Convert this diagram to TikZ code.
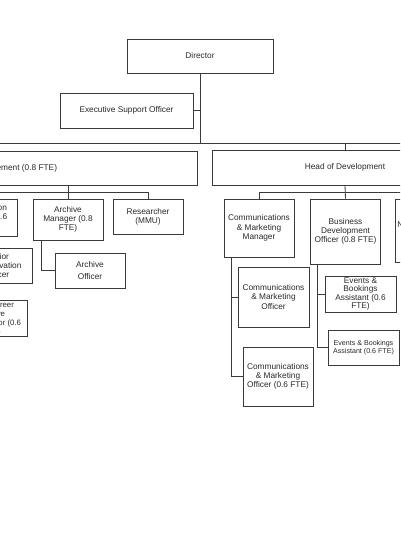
\documentclass[tikz,border=0pt]{standalone}
\usepackage{fontspec}
\setmainfont{Liberation Sans}
\definecolor{linec}{HTML}{3A3A3A}
\definecolor{txtc}{HTML}{2A2A2A}
\tikzset{
  orgbox/.style={draw=linec, line width=0.8pt, inner sep=1pt, align=center, text=txtc,
    font=\fontsize{8.3}{9.3}\selectfont},
  conn/.style={draw=linec, line width=0.8pt},
}
\begin{document}
\begin{tikzpicture}[x=1pt,y=-1pt]
\useasboundingbox (0,0) rectangle (400,535);
\fill[white] (0,0) rectangle (400,535);
\clip (0,0) rectangle (400,535);
% top
\node[orgbox, minimum width=146pt, minimum height=34pt] (dir) at (200,56) {Director};
\node[orgbox, minimum width=133pt, minimum height=35pt] (eso) at (126.5,110.5) {Executive Support Officer};
\node[orgbox, minimum width=440pt, minimum height=34pt] (hcm) at (-23,168) {Head of Collections Management (0.8 FTE)};
\node[orgbox, minimum width=266pt, minimum height=35pt] (hdev) at (345,167.5) {Head of Development};
\coordinate (busT) at (0,143);
\coordinate (topR) at (440,143);
\coordinate (busL) at (0,192);
\coordinate (busR) at (0,192);
% left children
\node[orgbox, minimum width=70pt, minimum height=37pt] (lp1) at (-17.5,217.5) {Conservation\\Manager (0.6\\FTE)};
\node[orgbox, minimum width=70pt, minimum height=41pt] (am) at (68,219.5) {Archive\\Manager (0.8\\FTE)};
\node[orgbox, minimum width=70pt, minimum height=35pt] (res) at (148,216.5) {Researcher\\(MMU)};
\node[orgbox, minimum width=70pt, minimum height=35pt] (lp2) at (-3,265.5) {Senior\\Conservation\\Officer};
\node[orgbox, minimum width=70pt, minimum height=35pt, font=\fontsize{7.8}{9}\selectfont] (lp3) at (-8,318.5) {Early Career\\Archive\\Conservator (0.6\\FTE)};
\node[orgbox, minimum width=70pt, minimum height=35pt, font=\fontsize{8.3}{12}\selectfont] (ao) at (90,270.5) {Archive\\Officer};
% right children
\node[orgbox, minimum width=70pt, minimum height=58pt] (cmm) at (259,228) {Communications\\\& Marketing\\Manager};
\node[orgbox, minimum width=70pt, minimum height=65pt] (bdo) at (345.5,231.5) {Business\\Development\\Officer (0.8 FTE)};
\node[orgbox, minimum width=70pt, minimum height=63pt] (r3) at (430,230.5) {New Audiences \&\\Manager};
\node[orgbox, minimum width=71pt, minimum height=60pt] (cmo) at (273.5,297) {Communications\\\& Marketing\\Officer};
\node[orgbox, minimum width=70pt, minimum height=59pt] (cmo2) at (278,376.5) {Communications\\\& Marketing\\Officer (0.6 FTE)};
\node[orgbox, minimum width=71pt, minimum height=36pt, font=\fontsize{8.3}{8.5}\selectfont] (eba1) at (360.5,294) {Events \&\\Bookings\\Assistant (0.6\\FTE)};
\node[orgbox, minimum width=71pt, minimum height=35pt, font=\fontsize{7.1}{8.2}\selectfont] (eba2) at (363.5,347.5) {Events \& Bookings\\Assistant (0.6 FTE)};
% connectors
\draw[conn] (dir.south) -- (dir.south |- busT);
\draw[conn] (eso.east) -- (eso.east -| dir.south);
\draw[conn] (hcm.north) -- (hcm.north |- busT) -- (topR);
\draw[conn] (hdev.north |- busT) -- (hdev.north);
\draw[conn] (lp1.north) -- (lp1.north |- busL) -- (res.north |- busL) -- (res.north);
\draw[conn] (am.north |- hcm.south) -- (am.north);
\draw[conn] ([xshift=-27pt]am.south) |- (ao.west);
\draw[conn] ([xshift=-27pt]lp1.south) |- (lp2.west);
\draw[conn] ([xshift=-27pt]lp1.south) |- (lp3.west);
\draw[conn] (cmm.north) -- (cmm.north |- busR) -- (r3.north |- busR) -- (r3.north);
\draw[conn] (hdev.south) -- (bdo.north);
\draw[conn] ([xshift=8pt]cmm.south west) |- (cmo.west);
\draw[conn] ([xshift=8pt]cmm.south west) |- (cmo2.west);
\draw[conn] ([xshift=7pt]bdo.south west) |- (eba1.west);
\draw[conn] ([xshift=7pt]bdo.south west) |- (eba2.west);
\end{tikzpicture}
\end{document}
